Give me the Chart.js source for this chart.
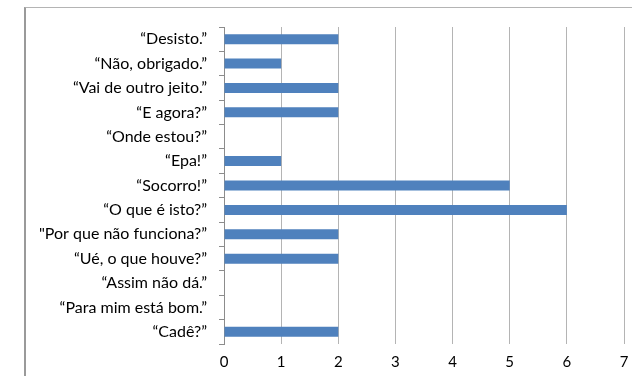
<!DOCTYPE html>
<html lang="pt">
<head>
<meta charset="UTF-8">
<script src="https://cdn.jsdelivr.net/npm/chart.js"></script>
<title>Frases</title>
<style>
  html, body { margin: 0; padding: 0; background: #fff; }
  .wrap { position: relative; width: 632px; height: 376px; overflow: hidden; }
  .frame { position: absolute; left: 24px; top: 7px; width: 700px; height: 500px;
           border-left: 2px solid #9a9a9a; border-top: 1px solid #b4b4b4; }
  canvas { position: absolute; left: 0; top: 0; }
</style>
</head>
<body>
<div class="wrap">
  <div class="frame"></div>
  <canvas id="grafico" width="632" height="376"></canvas>
</div>
<script>
// dados
var frases = [
  '\u201cDesisto.\u201d',
  '\u201cN\u00e3o, obrigado.\u201d',
  '\u201cVai de outro jeito.\u201d',
  '\u201cE agora?\u201d',
  '\u201cOnde estou?\u201d',
  '\u201cEpa!\u201d',
  '\u201cSocorro!\u201d',
  '\u201cO que \u00e9 isto?\u201d',
  '"Por que n\u00e3o funciona?\u201d',
  '\u201cU\u00e9, o que houve?\u201d',
  '\u201cAssim n\u00e3o d\u00e1.\u201d',
  '\u201cPara mim est\u00e1 bom.\u201d',
  '\u201cCad\u00ea?\u201d'
];
var respostas = [2, 1, 2, 2, 0, 1, 5, 6, 2, 2, 0, 0, 2];
var escalaX = [0, 1, 2, 3, 4, 5, 6, 7];

var fonte = "Lato, 'Open Sans', sans-serif";

new Chart(document.getElementById('grafico'), {
  type: 'bar',
  data: {
    labels: frases,
    datasets: [{
      data: respostas,
      backgroundColor: '#4f81bd',
      borderWidth: 0,
      categoryPercentage: 1,
      barPercentage: 0.41
    }]
  },
  options: {
    indexAxis: 'y',
    responsive: false,
    animation: false,
    layout: { padding: { left: 0, right: 8, top: 27, bottom: 0 } },
    plugins: { legend: { display: false }, tooltip: { enabled: false } },
    scales: {
      x: {
        min: escalaX[0],
        max: escalaX[escalaX.length - 1],
        ticks: { stepSize: 1, color: '#000', padding: 9, font: { family: fonte, size: 15 } },
        grid: { color: '#b4b4b4', drawTicks: false, lineWidth: 1 },
        border: { display: false },
        afterFit: function (s) { s.height = 32; s.paddingLeft = 0; s.paddingRight = 0; }
      },
      y: {
        ticks: { color: '#000', padding: 12, font: { family: fonte, size: 16 } },
        grid: { drawOnChartArea: false, drawTicks: true, tickLength: 5, color: '#8c8c8c', offset: true },
        border: { display: true, color: '#8c8c8c', width: 1 },
        afterFit: function (s) { s.width = 224; }
      }
    }
  }
});
</script>
</body>
</html>
